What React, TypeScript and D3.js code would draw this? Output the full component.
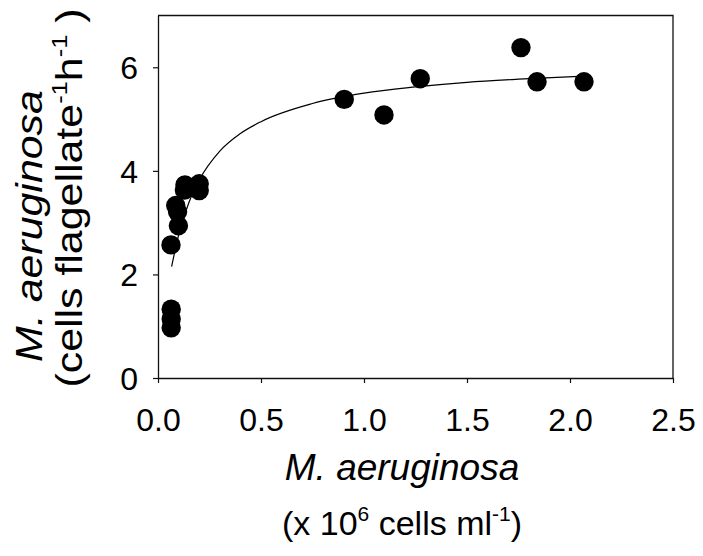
import * as d3 from 'd3'
import { useEffect, useRef } from 'react'

// measured points: M. aeruginosa density (x 10^6 cells/ml) vs ingestion rate
const densities = [0.063, 0.064, 0.064, 0.064, 0.086, 0.095, 0.099, 0.128, 0.131, 0.2, 0.2, 0.904, 1.097, 1.273, 1.762, 1.84, 2.068]
const ingestion = [2.57, 1.33, 1.14, 0.97, 3.33, 3.21, 2.94, 3.63, 3.73, 3.75, 3.62, 5.38, 5.08, 5.78, 6.38, 5.72, 5.72]

// fitted curve
const fitX = [0.066, 0.1, 0.15, 0.2, 0.3, 0.4, 0.5, 0.75, 1.0, 1.25, 1.5, 1.75, 2.07]
const fitY = [2.15, 2.76, 3.39, 3.82, 4.38, 4.72, 4.95, 5.3, 5.5, 5.62, 5.71, 5.77, 5.83]

const xTicks = [0, 0.5, 1, 1.5, 2, 2.5]
const yTicks = [0, 2, 4, 6]

const FONT = 'Liberation Sans, Arial, Helvetica, sans-serif'

export default function App() {
  const ref = useRef<SVGSVGElement>(null)

  useEffect(() => {
    const svg = d3.select(ref.current)
    svg.selectAll('*').remove()

    const x = d3.scaleLinear().domain([0, 2.5]).range([158, 673])
    const y = d3.scaleLinear().domain([0, 7]).range([378, 15.5])

    // frame (top + right)
    svg.append('path')
      .attr('d', `M${x(0)},${y(7)}H${x(2.5)}V${y(0)}`)
      .attr('fill', 'none')
      .attr('stroke', '#111')
      .attr('stroke-width', 1.3)

    // bottom axis
    const xa = svg.append('g').attr('transform', `translate(0,${y(0)})`)
      .call(d3.axisBottom(x).tickValues(xTicks).tickSize(5).tickSizeOuter(0).tickFormat(d3.format('.1f')))
    xa.select('.domain').attr('stroke', '#111').attr('stroke-width', 1.3)
    xa.selectAll('.tick line').attr('stroke', '#111').attr('stroke-width', 1.2)
    xa.selectAll('.tick text')
      .attr('y', 53).attr('dy', 0)
      .attr('font-size', 32).attr('font-family', FONT).attr('fill', '#000')

    // left axis
    const ya = svg.append('g').attr('transform', `translate(${x(0)},0)`)
      .call(d3.axisLeft(y).tickValues(yTicks).tickSize(5).tickSizeOuter(0).tickFormat(d3.format('d')))
    ya.select('.domain').attr('stroke', '#111').attr('stroke-width', 1.3)
    ya.selectAll('.tick line').attr('stroke', '#111').attr('stroke-width', 1.2)
    ya.selectAll('.tick text')
      .attr('x', -20).attr('dy', '0.36em')
      .attr('font-size', 32).attr('font-family', FONT).attr('fill', '#000')

    // fitted curve
    const line = d3.line<number>()
      .x((d, i) => x(fitX[i]))
      .y(d => y(d))
      .curve(d3.curveMonotoneX)
    svg.append('path')
      .attr('d', line(fitY))
      .attr('fill', 'none')
      .attr('stroke', '#000')
      .attr('stroke-width', 1.2)

    // points
    svg.append('g').selectAll('circle')
      .data(densities)
      .enter().append('circle')
      .attr('cx', d => x(d))
      .attr('cy', (d, i) => y(ingestion[i]))
      .attr('r', 9.7)
      .attr('fill', '#000')

    // x title, two lines
    const xt = svg.append('g').attr('font-family', FONT).attr('fill', '#000')
    xt.append('text')
      .attr('x', 402).attr('y', 480)
      .attr('text-anchor', 'middle')
      .attr('font-size', 37).attr('font-style', 'italic')
      .text('M. aeruginosa')
    const xt2 = xt.append('text')
      .attr('x', 402).attr('y', 535)
      .attr('text-anchor', 'middle')
      .attr('font-size', 34)
    xt2.append('tspan').text('(x 10')
    xt2.append('tspan').attr('font-size', 21).attr('dy', -14).text('6')
    xt2.append('tspan').attr('dy', 14).text(' cells ml')
    xt2.append('tspan').attr('font-size', 21).attr('dy', -14).text('-1')
    xt2.append('tspan').attr('dy', 14).text(')')

    // y title, rotated, stretched along the text
    const yt = svg.append('g').attr('font-family', FONT).attr('fill', '#000')
    yt.append('text')
      .attr('transform', 'translate(42,226) rotate(-90) scale(1.16,1)')
      .attr('text-anchor', 'middle')
      .attr('font-size', 37).attr('font-style', 'italic')
      .text('M. aeruginosa')
    const yt2 = yt.append('text')
      .attr('transform', 'translate(82,198) rotate(-90) scale(1.16,1)')
      .attr('text-anchor', 'middle')
      .attr('font-size', 37)
    yt2.append('tspan').text('(cells flagellate')
    yt2.append('tspan').attr('font-size', 22).attr('dy', -15).text('-1')
    yt2.append('tspan').attr('dy', 15).text('h')
    yt2.append('tspan').attr('font-size', 22).attr('dy', -15).text('-1')
    yt2.append('tspan').attr('dy', 15).text(' )')
  }, [])

  return (
    <svg ref={ref} width={703} height={556}
      style={{ position: 'absolute', left: 0, top: 0, background: '#fff' }}>
    </svg>
  )
}
